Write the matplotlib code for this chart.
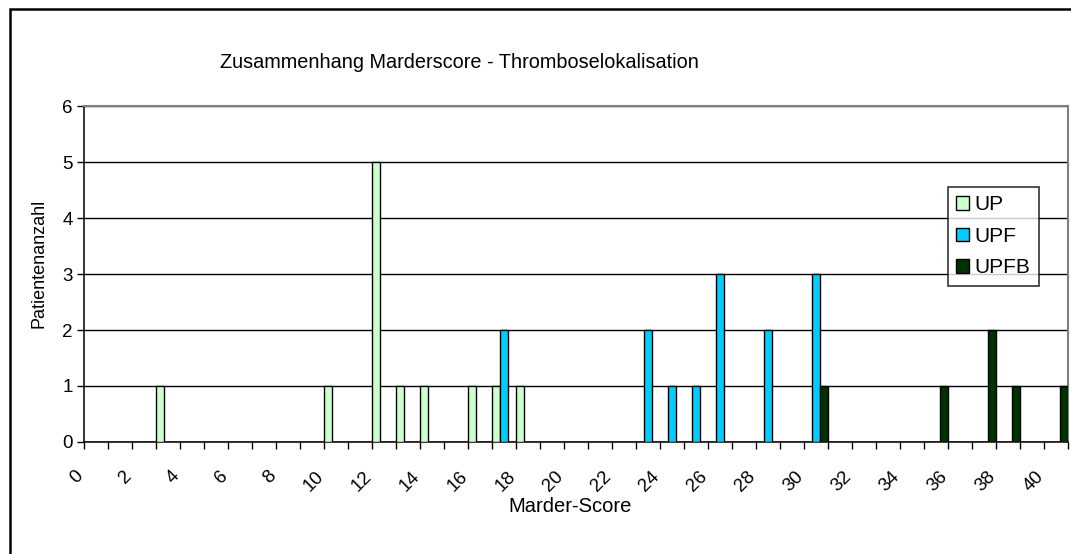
import matplotlib
matplotlib.use('agg')
import matplotlib.pyplot as plt
import matplotlib.transforms as mtransforms
from matplotlib.patches import Rectangle
import numpy as np

plt.rcParams['font.family'] = ['Liberation Sans', 'DejaVu Sans']

# Marder-Score categories 0..40
scores = list(range(0, 41))
up = {3: 1, 10: 1, 12: 5, 13: 1, 14: 1, 16: 1, 17: 1, 18: 1}
upf = {17: 2, 23: 2, 24: 1, 25: 1, 26: 3, 28: 2, 30: 3}
upfb = {30: 1, 35: 1, 37: 2, 38: 1, 40: 1}

series_names = ['UP', 'UPF', 'UPFB']
series_colors = ['#ccffcc', '#00ccff', '#003300']
tick_labels = [str(s) for s in scores[::2]]

fig = plt.figure(figsize=(10.71, 5.54), dpi=100)
ax = fig.add_axes([84 / 1071, 1 - 442 / 554, (1068 - 84) / 1071, (442 - 106) / 554])

x = np.array(scores)
w = 1 / 3
for i, (name, data, col) in enumerate(zip(series_names, [up, upf, upfb], series_colors)):
    vals = [data.get(s, 0) for s in scores]
    ax.bar(x - 0.5 + w * i, vals, width=w, align='edge', color=col,
           edgecolor='black', linewidth=1.0, label=name, zorder=3)

ax.set_xlim(-0.5, 40.5)
ax.set_ylim(0, 6)
ax.set_yticks(range(0, 7))
ax.yaxis.grid(True, color='black', linewidth=1.0, zorder=0)
ax.set_axisbelow(True)

ax.set_xticks(scores[::2])
ax.set_xticklabels(tick_labels, rotation=45, ha='right')
ax.set_xticks(np.arange(-0.5, 41, 1), minor=True)
ax.tick_params(axis='x', which='major', length=0, pad=18.5, labelsize=13.5)
ax.tick_params(axis='x', which='minor', length=5, width=1, direction='out')
ax.tick_params(axis='y', length=5, width=1, direction='out', labelsize=13.5, pad=3)
offset = mtransforms.ScaledTranslation(-9 / 100, 0, fig.dpi_scale_trans)
for lab in ax.get_xticklabels():
    lab.set_transform(lab.get_transform() + offset)

for side in ['left', 'bottom']:
    ax.spines[side].set_color('black')
    ax.spines[side].set_linewidth(1.1)
for side in ['top', 'right']:
    ax.spines[side].set_color('#808080')
    ax.spines[side].set_linewidth(1.5)

ax.set_xlabel('Marder-Score', fontsize=14.5)
ax.xaxis.set_label_coords(0.494, -0.164)
ax.set_ylabel('Patientenanzahl', fontsize=13)
ax.yaxis.set_label_coords(-0.0366, 0.533)

fig.text(459 / 1071, 1 - 62 / 554, 'Zusammenhang Marderscore - Thromboselokalisation',
         fontsize=14.3, ha='center', va='center')

leg = ax.legend(loc='upper left', bbox_to_anchor=((948 - 84) / 984, (442 - 187) / 336),
                fontsize=15, frameon=True, fancybox=False, edgecolor='black',
                handlelength=0.63, handleheight=0.6, handletextpad=0.24,
                borderpad=0.4, labelspacing=0.6, borderaxespad=0)
leg.get_frame().set_linewidth(1.2)

# outer chart border (right and bottom run off the image)
fig.patches.append(Rectangle((10 / 1071, -0.1), 1.2, 1 - 9.5 / 554 + 0.1,
                             transform=fig.transFigure, fill=False,
                             edgecolor='black', linewidth=1.8))

fig.savefig('out.png', dpi=100)
